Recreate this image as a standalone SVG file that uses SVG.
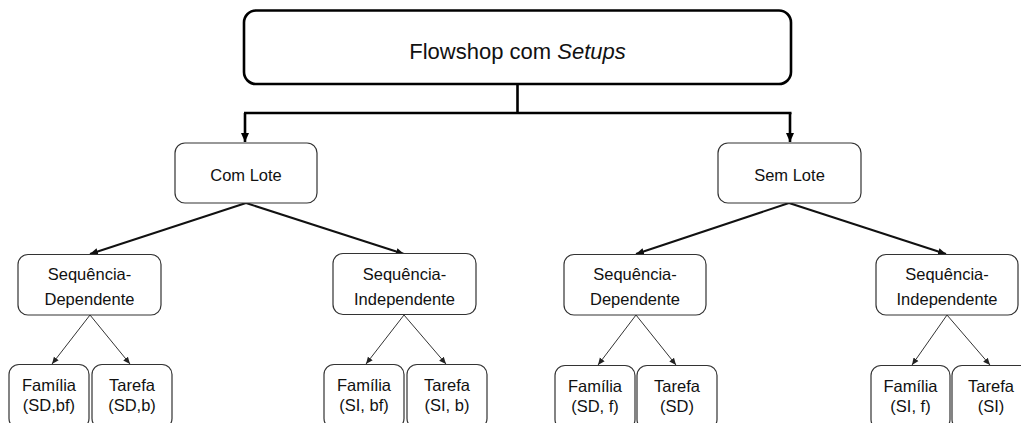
<svg xmlns="http://www.w3.org/2000/svg" width="1021" height="423" viewBox="0 0 1021 423">
<style>
text{font-family:"Liberation Sans",Arial,sans-serif;fill:#111;text-anchor:middle}
.n{fill:#fff;stroke:#333;stroke-width:1.2}
.t,.lf{font-size:16.5px}
.h{font-size:22px}
.c1{fill:none;stroke:#000;stroke-width:2.6}
.c2{fill:none;stroke:#111;stroke-width:2}
.c3{fill:none;stroke:#333;stroke-width:1}
</style>
<defs>
<marker id="a1" markerUnits="userSpaceOnUse" markerWidth="10" markerHeight="10" refX="9" refY="5" orient="auto"><path d="M0,1 L9,5 L0,9 Z" fill="#000"/></marker>
<marker id="a2" markerUnits="userSpaceOnUse" markerWidth="10" markerHeight="10" refX="8" refY="5" orient="auto"><path d="M0,1.5 L8,5 L0,8.5 Z" fill="#111"/></marker>
<marker id="a3" markerUnits="userSpaceOnUse" markerWidth="8" markerHeight="8" refX="7" refY="4" orient="auto"><path d="M0,1 L7,4 L0,7 Z" fill="#222"/></marker>
</defs>
<rect width="1021" height="423" fill="#fff"/>
<g id="connectors">
<path class="c1" d="M517.5,84 V113 M244,113 H791.5"/>
<path class="c1" d="M245,113 V142" marker-end="url(#a1)"/>
<path class="c1" d="M790,113 V142" marker-end="url(#a1)"/>
<path class="c2" d="M246,203 L90,254" marker-end="url(#a2)"/>
<path class="c2" d="M246,203 L404,254" marker-end="url(#a2)"/>
<path class="c2" d="M789,203 L636,254" marker-end="url(#a2)"/>
<path class="c2" d="M789,203 L946,254" marker-end="url(#a2)"/>
<path class="c3" d="M90,315 L52,364" marker-end="url(#a3)"/>
<path class="c3" d="M90,315 L130,364" marker-end="url(#a3)"/>
<path class="c3" d="M404,315 L366,364" marker-end="url(#a3)"/>
<path class="c3" d="M404,315 L446,364" marker-end="url(#a3)"/>
<path class="c3" d="M636,315 L598,365" marker-end="url(#a3)"/>
<path class="c3" d="M636,315 L676,365" marker-end="url(#a3)"/>
<path class="c3" d="M947,315 L912,365" marker-end="url(#a3)"/>
<path class="c3" d="M947,315 L990,365" marker-end="url(#a3)"/>
</g>
<g id="root">
<rect x="244" y="10.5" width="547" height="73.5" rx="12" fill="#fff" stroke="#000" stroke-width="2.6"/>
<text class="h" x="517.5" y="59">Flowshop com <tspan font-style="italic">Setups</tspan></text>
</g>
<g id="com-lote">
<rect class="n" x="175" y="143" width="142" height="60" rx="10"/>
<text class="t" x="246" y="181">Com Lote</text>
</g>
<g id="sem-lote">
<rect class="n" x="718" y="143" width="143" height="60" rx="10"/>
<text class="t" x="789.5" y="181">Sem Lote</text>
</g>
<g id="seq-dep-1">
<rect class="n" x="18" y="254.5" width="143" height="60.5" rx="10"/>
<text class="t" x="89.5" y="280">Sequência-</text>
<text class="t" x="89.5" y="305">Dependente</text>
</g>
<g id="seq-ind-1">
<rect class="n" x="333" y="253.5" width="143" height="61" rx="10"/>
<text class="t" x="404.5" y="280">Sequência-</text>
<text class="t" x="404.5" y="305">Independente</text>
</g>
<g id="seq-dep-2">
<rect class="n" x="564" y="254.5" width="142" height="60.5" rx="10"/>
<text class="t" x="635" y="280">Sequência-</text>
<text class="t" x="635" y="305">Dependente</text>
</g>
<g id="seq-ind-2">
<rect class="n" x="876" y="254.5" width="142" height="60.5" rx="10"/>
<text class="t" x="947" y="280">Sequência-</text>
<text class="t" x="947" y="305">Independente</text>
</g>
<g id="familia-sd-bf">
<rect class="n" x="9" y="364.5" width="80" height="64" rx="10"/>
<text class="lf" x="49" y="391">Família</text>
<text class="lf" x="49" y="410.5">(SD,bf)</text>
</g>
<g id="tarefa-sd-b">
<rect class="n" x="92" y="364.5" width="80" height="64" rx="10"/>
<text class="lf" x="132" y="391">Tarefa</text>
<text class="lf" x="132" y="410.5">(SD,b)</text>
</g>
<g id="familia-si-bf">
<rect class="n" x="324" y="364.5" width="80" height="64" rx="10"/>
<text class="lf" x="364" y="391">Família</text>
<text class="lf" x="364" y="410.5">(SI, bf)</text>
</g>
<g id="tarefa-si-b">
<rect class="n" x="407" y="364.5" width="80" height="64" rx="10"/>
<text class="lf" x="447" y="391">Tarefa</text>
<text class="lf" x="447" y="410.5">(SI, b)</text>
</g>
<g id="familia-sd-f">
<rect class="n" x="555" y="365.5" width="80" height="64" rx="10"/>
<text class="lf" x="595" y="392">Família</text>
<text class="lf" x="595" y="411.5">(SD, f)</text>
</g>
<g id="tarefa-sd">
<rect class="n" x="637" y="365.5" width="80" height="64" rx="10"/>
<text class="lf" x="677" y="392">Tarefa</text>
<text class="lf" x="677" y="411.5">(SD)</text>
</g>
<g id="familia-si-f">
<rect class="n" x="871" y="365.5" width="79" height="64" rx="10"/>
<text class="lf" x="910.5" y="392">Família</text>
<text class="lf" x="910.5" y="411.5">(SI, f)</text>
</g>
<g id="tarefa-si">
<rect class="n" x="952" y="365.5" width="80" height="64" rx="10"/>
<text class="lf" x="991" y="392">Tarefa</text>
<text class="lf" x="991" y="411.5">(SI)</text>
</g>
</svg>
